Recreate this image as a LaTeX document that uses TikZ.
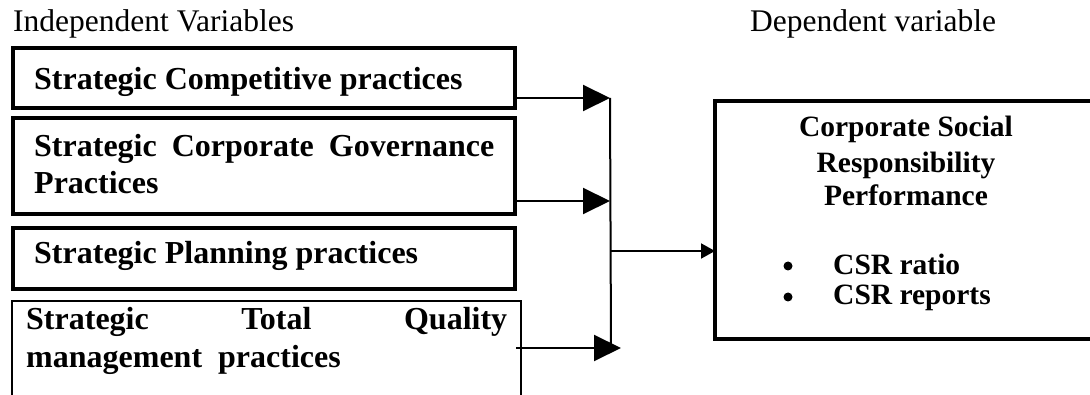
\documentclass[tikz,border=0pt]{standalone}
\usepackage{fontspec}
\setmainfont{Liberation Serif}
\usetikzlibrary{arrows.meta,calc}

\begin{document}
\begin{tikzpicture}[x=1pt,y=-1pt,
  box/.style={draw, rectangle, line width=4pt, inner sep=0pt, outer sep=0pt, anchor=north west},
  thinbox/.style={box, line width=2pt},
  head/.style={anchor=base west, inner sep=0pt, font=\fontsize{31.5}{37}\selectfont},
  lbl/.style={anchor=base west, inner sep=0pt, font=\fontsize{32}{37}\selectfont\bfseries},
  dvtxt/.style={anchor=base, inner sep=0pt, font=\fontsize{29.5}{35}\selectfont\bfseries},
  bulletdot/.style={circle, fill, inner sep=0pt, minimum size=9pt},
  link/.style={line width=2pt},
  bigarrow/.style={link, -{Triangle[length=27pt,width=26pt]}},
  smallarrow/.style={link, -{Triangle[length=14pt,width=15pt]}}
]
\useasboundingbox (0,0) rectangle (1090,395);

% column headings
\node[head] (hind) at (13,32) {Independent Variables};
\node[head] (hdep) at (750,32) {Dependent variable};

% independent variable boxes
\node[box, minimum width=502pt, minimum height=60pt] (b1) at (13,48) {};
\node[box, minimum width=502pt, minimum height=96pt] (b2) at (13,118) {};
\node[box, minimum width=502pt, minimum height=61pt] (b3) at (13,228) {};
\node[thinbox, minimum width=509pt, minimum height=150pt] (b4) at (12,301) {};

\node[lbl] (t1) at (34,90) {Strategic Competitive practices};
\node[lbl] (t2a) at (34,157) {\hbox to 460pt{Strategic\hfill Corporate\hfill Governance}};
\node[lbl] (t2b) at (34,194) {Practices};
\node[lbl] (t3) at (34,264) {Strategic Planning practices};
\node[lbl] (t4a) at (26,330) {\hbox to 481pt{Strategic\hfill Total\hfill Quality}};
\node[lbl] (t4b) at (26,367) {management\ \ practices};

% dependent variable box
\node[box, minimum width=420pt, minimum height=238pt] (dv) at (715,101) {};
\node[dvtxt] (d1) at (906,137) {Corporate Social};
\node[dvtxt] (d2) at (906,173) {Responsibility};
\node[dvtxt] (d3) at (906,206) {Performance};
\node[bulletdot] (bu1) at (788,266) {};
\node[bulletdot] (bu2) at (788,297) {};
\node[dvtxt, anchor=base west] (d4) at (833,275) {CSR ratio};
\node[dvtxt, anchor=base west] (d5) at (833,305) {CSR reports};

% junction points of the connectors
\coordinate (j1) at (610,98);
\coordinate (j2) at (610,201);
\coordinate (jm) at (610,251);
\coordinate (jb) at (611,348);
\coordinate (e4) at (621,348);

\draw[bigarrow] (b1.east |- j1) -- (j1);
\draw[bigarrow] (b2.east |- j2) -- (j2);
\draw[link] (j1) -- (jb);
\draw[smallarrow] (jm) -- (dv.west |- jm);
\draw[bigarrow] ($(b4.east |- e4)+(-5,0)$) -- (e4);
\end{tikzpicture}
\end{document}
